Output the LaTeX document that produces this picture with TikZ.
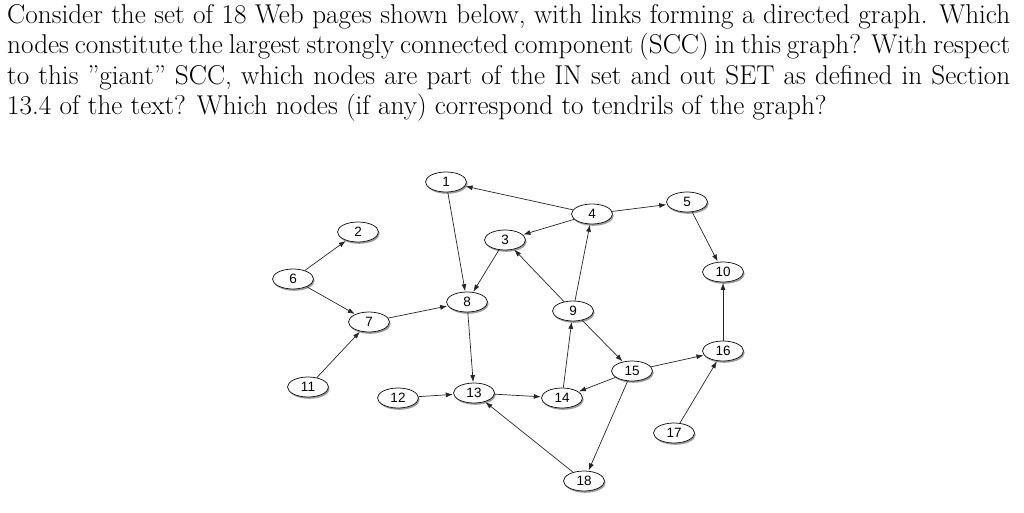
\documentclass[tikz,border=0pt]{standalone}
\usepackage{fontspec}
\newfontfamily\nodefont{Liberation Sans}
\usetikzlibrary{arrows.meta,shapes.geometric,shadows}
\begin{document}
\begin{tikzpicture}[x=1pt,y=-1pt,
  pg/.style={ellipse,draw=black!90,line width=0.75pt,fill=white,
    minimum width=41pt,minimum height=20pt,inner sep=0pt,
    font=\nodefont\fontsize{13.5}{13.5}\selectfont,
    drop shadow={shadow xshift=1.2pt,shadow yshift=-1.8pt,opacity=0.55,fill=black!70}},
  lk/.style={draw=black!85,line width=0.7pt,-{Latex[length=7pt,width=5pt]},shorten >=0.5pt},
  txt/.style={anchor=base west,inner sep=0pt,font=\fontsize{27.2}{30}\selectfont}]
\useasboundingbox (0,0) rectangle (1024,513);
\fill[white] (0,0) rectangle (1024,513);
% question text
\node[txt] (l1) at (7,23.5) {\hbox to 1003pt{Consider the set of 18 Web pages shown below, with links forming a directed graph. Which}};
\node[txt] (l2) at (7,54) {\hbox to 1003pt{nodes constitute the largest strongly connected component (SCC) in this graph? With respect}};
\node[txt] (l3) at (7,84.5) {\hbox to 1003pt{to this ”giant” SCC, which nodes are part of the IN set and out SET as defined in Section}};
\node[txt] (l4) at (7,115) {13.4 of the text? Which nodes (if any) correspond to tendrils of the graph?};
% nodes
\node[pg] (n1) at (446,182) {1};
\node[pg] (n2) at (358,232) {2};
\node[pg] (n3) at (505,240) {3};
\node[pg] (n4) at (592,214) {4};
\node[pg] (n5) at (687,202) {5};
\node[pg] (n6) at (293,279) {6};
\node[pg] (n7) at (369,322) {7};
\node[pg] (n8) at (467,302) {8};
\node[pg] (n9) at (573,311) {9};
\node[pg] (n10) at (723,272) {10};
\node[pg] (n11) at (308,387) {11};
\node[pg] (n12) at (398,398) {12};
\node[pg] (n13) at (474,393) {13};
\node[pg] (n14) at (562,398) {14};
\node[pg] (n15) at (632,371) {15};
\node[pg] (n16) at (723,351) {16};
\node[pg] (n17) at (674,433) {17};
\node[pg] (n18) at (584,481) {18};
% links
\draw[lk] (n4) -- (n1);
\draw[lk] (n4) -- (n3);
\draw[lk] (n4) -- (n5);
\draw[lk] (n5) -- (n10);
\draw[lk] (n16) -- (n10);
\draw[lk] (n9) -- (n4);
\draw[lk] (n9) -- (n3);
\draw[lk] (n3) -- (n8);
\draw[lk] (n1) -- (n8);
\draw[lk] (n6) -- (n2);
\draw[lk] (n6) -- (n7);
\draw[lk] (n7) -- (n8);
\draw[lk] (n11) -- (n7);
\draw[lk] (n8) -- (n13);
\draw[lk] (n12) -- (n13);
\draw[lk] (n13) -- (n14);
\draw[lk] (n14) -- (n9);
\draw[lk] (n9) -- (n15);
\draw[lk] (n15) -- (n14);
\draw[lk] (n15) -- (n16);
\draw[lk] (n15) -- (n18);
\draw[lk] (n18) -- (n13);
\draw[lk] (n17) -- (n16);
\end{tikzpicture}
\end{document}
